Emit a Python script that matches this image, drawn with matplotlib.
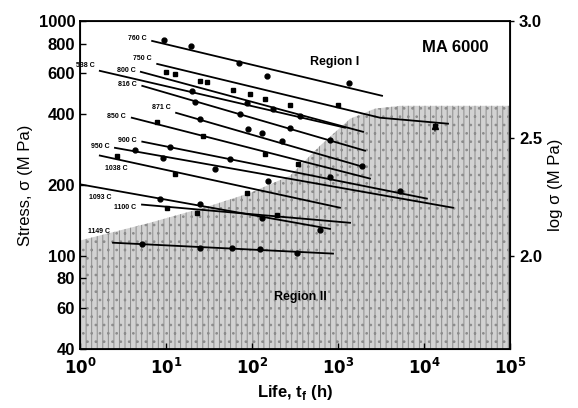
import numpy as np
import matplotlib
matplotlib.use('Agg')
import matplotlib.pyplot as plt

plt.rcParams['font.family'] = ['Liberation Sans', 'DejaVu Sans']
plt.rcParams['hatch.linewidth'] = 0.7

# temperature lines (start / end points)
temps = ['760 C', '750 C', '538 C', '800 C', '816 C', '871 C', '850 C',
         '900 C', '950 C', '1038 C', '1093 C', '1100 C', '1149 C']
line_t = [[6.9, 3250], [7.9, 3080, 19000], [1.7, 1206], [5.1, 1954],
          [5.3, 2060], [13.1, 1954], [4.0, 2355], [5.3, 10800],
          [2.55, 21700], [1.7, 1055], [0.95, 807], [5.26, 1380], [2.42, 875]]
line_s = [[822, 480], [656, 387, 365], [613, 351], [607, 337],
          [529, 280], [406, 239], [387, 213], [306, 175],
          [288, 160], [267, 160], [202, 130], [165, 138], [113.5, 102]]

# rupture data points
mark_t = [[9.5, 19.5, 70.6, 149, 1342], [12.7, 30, 60, 142, 1000, 13400],
          [20, 87.5, 175, 362], [10, 24.8, 95, 277],
          [21.7, 72.5, 277, 807], [24.8, 89.8, 131, 223, 1900],
          [7.86, 26.9, 142, 343], [11.1, 55.5, 807, 5260],
          [4.36, 9.2, 37.1, 153], [2.69, 12.7, 87.5],
          [8.5, 24.8, 131, 618], [10.3, 22.9, 195],
          [5.26, 24.8, 58.5, 124, 333]]
mark_s = [[830, 783, 662, 583, 545], [594, 550, 508, 465, 440, 357],
          [504, 448, 423, 394], [607, 556, 489, 440],
          [452, 402, 351, 312], [383, 347, 333, 308, 242],
          [372, 324, 272, 246], [291, 259, 217, 189],
          [282, 261, 234, 208], [267, 223, 184],
          [175, 166, 145, 129], [160, 152, 149],
          [112, 108, 108, 107, 103]]
mark_m = ['o', 's', 'o', 's', 'o', 'o', 's', 'o', 'o', 's', 'o', 's', 'o']

# Region II boundary
region_t = [1, 6.5, 32.5, 95, 277, 618, 1380, 2690, 5260, 1e5]
region_s = [116, 138, 163, 185, 219, 294, 383, 423, 435, 435]

label_off = [(-4, 2), (-4, 4), (-4, 4), (-4, 1), (-4, 1), (-4, 4), (-4, 1),
             (-4, 1), (-4, 1), (20, -9), (24, -10), (-4, -2), (-2, 8)]

fig = plt.figure(figsize=(5.78, 4.08), dpi=100)
ax = fig.add_axes([0.1384, 0.1446, 0.744, 0.804])

ax.fill_between(region_t, 40, region_s, facecolor='#d2d2d2', edgecolor='#8c8c8c',
                hatch='|||..', linewidth=0, zorder=1)

for i in range(len(temps)):
    ax.plot(line_t[i], line_s[i], color='k', lw=1.3, zorder=3)
    ax.plot(mark_t[i], mark_s[i], linestyle='none', marker=mark_m[i],
            ms=3.5, color='k', zorder=4)
    ax.annotate(temps[i], (line_t[i][0], line_s[i][0]), xytext=label_off[i],
                textcoords='offset points', ha='right', va='center',
                fontsize=5, fontweight='bold', zorder=5, annotation_clip=False)

# run-out specimen
ax.plot([13400], [357], marker='^', ms=4, color='k', zorder=4)
ax.annotate('', xy=(13400, 375), xytext=(13400, 330),
            arrowprops=dict(arrowstyle='-|>', color='k', lw=0.9, mutation_scale=7))

ax.set_xscale('log')
ax.set_yscale('log')
ax.set_xlim(1, 1e5)
ax.set_ylim(40, 1000)
ax.set_xticks([1, 10, 100, 1e3, 1e4, 1e5])
ax.set_xticklabels(['$\\mathbf{10^0}$', '$\\mathbf{10^1}$', '$\\mathbf{10^2}$',
                    '$\\mathbf{10^3}$', '$\\mathbf{10^4}$', '$\\mathbf{10^5}$'])
ax.set_yticks([40, 60, 80, 100, 200, 400, 600, 800, 1000])
ax.set_yticklabels(['40', '60', '80', '100', '200', '400', '600', '800', '1000'],
                   fontweight='bold')
ax.minorticks_off()
ax.tick_params(axis='both', direction='in', labelsize=12, length=4, width=1)
ax.tick_params(axis='x', pad=6)
for sp in ax.spines.values():
    sp.set_linewidth(1.3)

ax.set_xlabel('Life, t$_\\mathregular{f}$ (h)', fontsize=12, fontweight='bold')
ax.set_ylabel('Stress, σ (M Pa)', fontsize=12)

ax2 = ax.twinx()
ax2.set_ylim(np.log10(40), 3.0)
ax2.set_yticks([2.0, 2.5, 3.0])
ax2.set_yticklabels(['2.0', '2.5', '3.0'], fontweight='bold')
ax2.tick_params(axis='y', direction='out', labelsize=12, length=3, width=1)
ax2.set_ylabel('log σ (M Pa)', fontsize=12)

ax.text(0.872, 0.92, 'MA 6000', transform=ax.transAxes, ha='center', va='center',
        fontsize=12, fontweight='bold', zorder=6)
ax.text(0.593, 0.875, 'Region I', transform=ax.transAxes, ha='center', va='center',
        fontsize=9, fontweight='bold', zorder=6)
ax.text(0.512, 0.159, 'Region II', transform=ax.transAxes, ha='center', va='center',
        fontsize=9, fontweight='bold', zorder=6)

fig.savefig('out.png', dpi=100)
